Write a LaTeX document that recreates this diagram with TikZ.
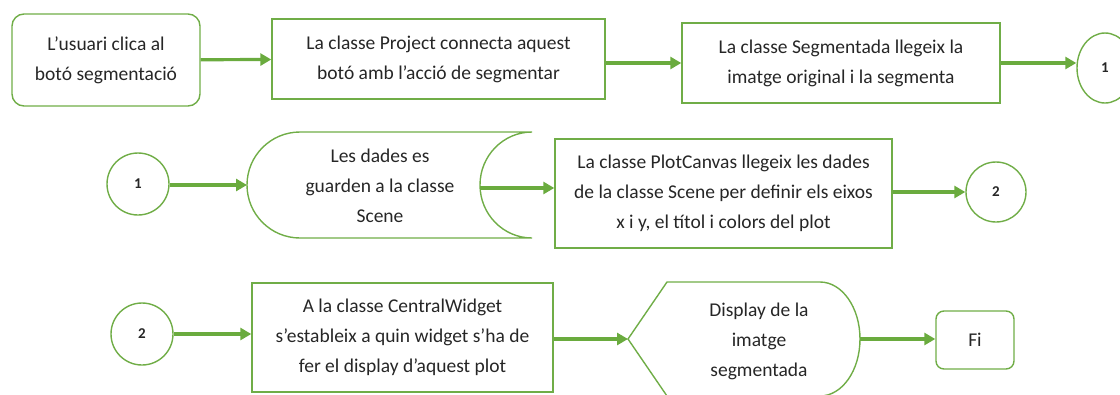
\documentclass[tikz,border=0pt]{standalone}
\usepackage{fontspec}
\setmainfont{Carlito}
\usetikzlibrary{arrows.meta,shapes.geometric}
\definecolor{gline}{HTML}{70AD47}
\definecolor{garrow}{HTML}{6AAB3E}
\definecolor{txt}{HTML}{262626}
\tikzset{
  x=1pt, y=1pt,
  every node/.style={text=txt, font=\fontsize{19.5}{30}\selectfont, align=center, inner sep=0pt},
  sbox/.style={draw=gline, line width=1.4pt, rectangle},
  rbox/.style={draw=gline, line width=1.4pt, rectangle, rounded corners=12pt},
  conn/.style={draw=gline, line width=1.4pt, ellipse, font=\fontsize{15}{17}\selectfont\bfseries},
  shapeline/.style={draw=gline, line width=1.4pt},
  arr/.style={draw=garrow, line width=3.2pt, -{Triangle[length=11pt,width=12pt]}},
}
\begin{document}
\begin{tikzpicture}
\useasboundingbox (0,0) rectangle (1120,-394);
\clip (0,0) rectangle (1120,-394);
% Row 1
\node[rbox, minimum width=188, minimum height=92] (A) at (106,-60) {L’usuari clica al\\botó segmentació};
\node[sbox, minimum width=333, minimum height=80] (B) at (438.5,-59) {La classe Project connecta aquest\\botó amb l’acció de segmentar};
\node[sbox, minimum width=318, minimum height=80] (C) at (841,-63) {La classe Segmentada llegeix la\\imatge original i la segmenta};
\node[conn, minimum width=56, minimum height=70] (c1a) at (1105,-68) {\textbf{1}};
\draw[arr] (A) -- (B);
\draw[arr] (B.east |- C.west) -- (C.west);
\draw[arr] (C.east) -- (C.east -| c1a.west);
% Row 2
\node[conn, minimum size=62] (c1b) at (138,-184) {\textbf{1}};
\draw[shapeline] (300,-132) -- (532,-132)
  arc[start angle=90, end angle=270, x radius=52, y radius=53]
  -- (300,-238)
  arc[start angle=270, end angle=90, x radius=53, y radius=53] -- cycle;
\node (D) at (380,-186) {Les dades es\\guarden a la classe\\Scene};
\coordinate (Din) at (247,-185);
\coordinate (Dout) at (480,-188);
\node[sbox, minimum width=337, minimum height=109] (E) at (723.5,-193.5) {La classe PlotCanvas llegeix les dades\\de la classe Scene per definir els eixos\\x i y, el títol i colors del plot};
\node[conn, minimum size=60] (c2a) at (996,-192) {\textbf{2}};
\draw[arr] (c1b.east |- Din) -- (Din);
\draw[arr] (Dout) -- (Dout -| E.west);
\draw[arr] (E.east |- c2a.west) -- (c2a.west);
% Row 3
\node[conn, minimum size=62] (c2b) at (142,-334) {\textbf{2}};
\node[sbox, minimum width=301, minimum height=109] (F) at (402.5,-337.5) {A la classe CentralWidget\\s’estableix a quin widget s’ha de\\fer el display d’aquest plot};
\draw[shapeline] (628,-339) -- (667,-282) -- (820,-282)
  arc[start angle=90, end angle=-90, x radius=40, y radius=57]
  -- (667,-396) -- cycle;
\node (G) at (759,-341) {Display de la\\imatge\\segmentada};
\coordinate (Gin) at (628,-339);
\coordinate (Gout) at (860,-339);
\node[rbox, rounded corners=8pt, minimum width=78, minimum height=58] (Fi) at (975,-340) {Fi};
\draw[arr] (c2b.east) -- (c2b.east -| F.west);
\draw[arr] (F.east |- Gin) -- (Gin);
\draw[arr] (Gout) -- (Gout -| Fi.west);
\end{tikzpicture}
\end{document}
